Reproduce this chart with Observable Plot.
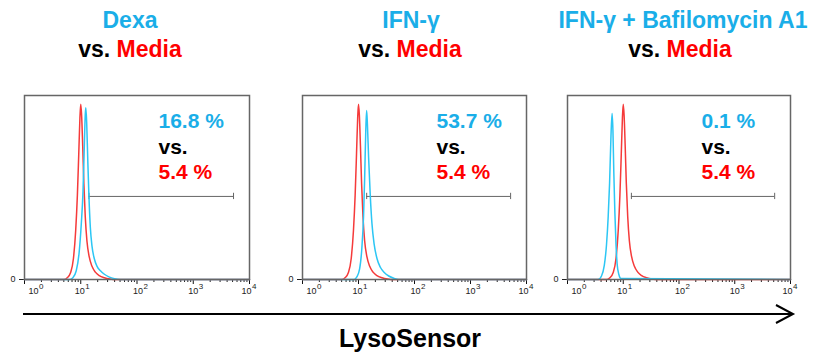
<!DOCTYPE html>
<html><head><meta charset="utf-8">
<script src="https://cdn.jsdelivr.net/npm/d3@7"></script>
<script src="https://cdn.jsdelivr.net/npm/@observablehq/plot@0.6"></script>
<style>
body{margin:0;background:#fff;font-family:Arial,"Liberation Sans",Helvetica,sans-serif;}
#wrap{position:relative;width:813px;height:359px;overflow:hidden;background:#fff;}
#wrap svg.overlay{position:absolute;left:0;top:0;}
.panel{position:absolute;top:90px;}
</style></head><body>
<div id="wrap"></div>
<script>
// ---- data ----
const treatments = ["Dexa", "IFN-γ", "IFN-γ + Bafilomycin A1"];
const treatedPct = ["16.8 %", "53.7 %", "0.1 %"];
const mediaPct = "5.4 %";
const decades = [1, 10, 100, 1000, 10000];
const exponents = ["0", "1", "2", "3", "4"];
const gateRange = [14, 5200];
const gateLevel = 47.4;

// Media (control) histogram: log10 fluorescence -> % of max
const mediaLog   = [0, 0.70, 0.76, 0.82, 0.87, 0.91, 0.94, 0.965, 0.985, 1.0, 1.015, 1.035, 1.055, 1.08, 1.11, 1.15, 1.2, 1.26, 1.33, 1.42, 1.52, 1.62, 4];
const mediaCount = [0, 0, 1, 4, 12, 28, 48, 72, 92, 100, 94, 76, 55, 36, 22, 13, 7.5, 4.2, 2.2, 1, 0.3, 0, 0];

// Dexa
const dexaLog   = [0, 0.80, 0.86, 0.92, 0.97, 1.01, 1.04, 1.065, 1.08, 1.09, 1.105, 1.125, 1.145, 1.17, 1.2, 1.24, 1.29, 1.35, 1.42, 1.5, 1.6, 1.7, 4];
const dexaCount = [0, 0, 1, 5, 15, 32, 50, 78, 94, 98, 90, 68, 48, 30, 19, 12, 7.5, 5, 3, 1.5, 0.4, 0, 0];

// IFN-gamma
const ifnLog   = [0, 0.92, 0.97, 1.02, 1.06, 1.09, 1.11, 1.13, 1.145, 1.16, 1.18, 1.21, 1.24, 1.28, 1.33, 1.39, 1.46, 1.54, 1.63, 1.72, 4];
const ifnCount = [0, 0, 1.5, 6, 18, 36, 58, 85, 96.4, 88, 70, 48, 32, 20, 12, 7, 4, 2, 0.7, 0, 0];

// IFN-gamma + Bafilomycin A1
const bafLog   = [0, 0.55, 0.61, 0.66, 0.70, 0.73, 0.755, 0.78, 0.80, 0.815, 0.83, 0.85, 0.87, 0.89, 0.92, 0.96, 4];
const bafCount = [0, 0, 2, 8, 20, 36, 55, 82, 94.7, 85, 62, 38, 20, 9, 3, 0.5, 0];

const treatedLogs = [dexaLog, ifnLog, bafLog];
const treatedCounts = [dexaCount, ifnCount, bafCount];

// ---- styling / layout ----
const CYAN = "#1aaee8", RED = "#ff0000";
const CURVE_CYAN = "#2cc6f4", CURVE_RED = "#f53a3a";
const FONT = "Arial, 'Liberation Sans', Helvetica, sans-serif";
const panelLeft = [2, 280, 545];
const boxW = [225, 224, 223];
const labelShift = [9, -1, 1, 0, -3];
const minorTicks = [];
for (const d of [1, 10, 100, 1000]) for (let k = 2; k <= 9; k++) minorTicks.push(d * k);

const wrap = document.getElementById("wrap");
const NS = "http://www.w3.org/2000/svg";

// overlay with titles, arrow and axis title
const ov = document.createElementNS(NS, "svg");
ov.setAttribute("class", "overlay");
ov.setAttribute("width", 813); ov.setAttribute("height", 359);
ov.setAttribute("font-family", FONT);
function txt(parent, x, y, parts, size, anchor) {
  const t = document.createElementNS(NS, "text");
  t.setAttribute("x", x); t.setAttribute("y", y);
  t.setAttribute("font-size", size); t.setAttribute("font-weight", "bold");
  t.setAttribute("text-anchor", anchor || "middle");
  for (const [s, c] of parts) {
    const ts = document.createElementNS(NS, "tspan");
    ts.setAttribute("fill", c); ts.textContent = s; t.appendChild(ts);
  }
  parent.appendChild(t);
}
const titleX = [130, 411, 683];
const vsX = [130, 410, 680];
treatments.forEach((name, i) => {
  txt(ov, titleX[i], 28, [[name, CYAN]], 23);
  txt(ov, vsX[i], 57, [["vs. ", "#000"], ["Media", RED]], 23);
});
// arrow
const ln = document.createElementNS(NS, "path");
ln.setAttribute("d", "M23,314 L792,314 M776,305 L793,314 L776,323");
ln.setAttribute("stroke", "#000"); ln.setAttribute("stroke-width", 2);
ln.setAttribute("fill", "none");
ov.appendChild(ln);
txt(ov, 410, 347, [["LysoSensor", "#000"]], 25);
wrap.appendChild(ov);

function makePanel(i) {
  const mediaData = mediaLog.map((l, j) => ({x: 10 ** l, y: mediaCount[j]}));
  const treatedData = treatedLogs[i].map((l, j) => ({x: 10 ** l, y: treatedCounts[i][j]}));
  const ml = 22, mr = 10, mt = 5, mb = 25;
  const labelMarks = [];
  decades.forEach((d, k) => {
    labelMarks.push(Plot.text([d], {x: v => v, frameAnchor: "bottom", text: () => "10",
      dy: 14, dx: labelShift[k], lineAnchor: "bottom", fontSize: 9, fill: "#222"}));
    labelMarks.push(Plot.text([d], {x: v => v, frameAnchor: "bottom", text: () => exponents[k],
      dy: 9, dx: labelShift[k] + 5.5, lineAnchor: "bottom", textAnchor: "start", fontSize: 8, fill: "#222"}));
  });
  const pctStyle = {frameAnchor: "top-left", dx: 134, lineAnchor: "bottom", textAnchor: "start",
    fontSize: 21, fontWeight: "bold", text: d => d};
  const p = Plot.plot({
    width: ml + boxW[i] + mr, height: mt + 184 + mb,
    marginLeft: ml, marginRight: mr, marginTop: mt, marginBottom: mb,
    style: {fontFamily: FONT, background: "transparent", overflow: "visible"},
    x: {type: "log", domain: [1, 10000]},
    y: {domain: [0, 105]},
    marks: [
      Plot.ruleY([0], {stroke: "#222"}),
      Plot.axisX(minorTicks, {tickSize: 3, tickFormat: () => "", stroke: "#222"}),
      Plot.axisX(decades, {tickSize: 5, tickFormat: () => "", stroke: "#111"}),
      Plot.axisY([0], {tickSize: 5, tickPadding: 4, fontSize: 9, color: "#222"}),
      ...labelMarks,
      Plot.ruleY([{x1: gateRange[0], x2: gateRange[1], y: gateLevel}], {x1: "x1", x2: "x2", y: "y", stroke: "#666"}),
      Plot.ruleX(gateRange.map(g => ({x: g, y1: gateLevel - 1.8, y2: gateLevel + 1.8})), {x: "x", y1: "y1", y2: "y2", stroke: "#666"}),
      Plot.line(mediaData, {x: "x", y: "y", stroke: CURVE_RED, strokeWidth: 1.5, curve: "monotone-x"}),
      Plot.line(treatedData, {x: "x", y: "y", stroke: CURVE_CYAN, strokeWidth: 1.5, curve: "monotone-x"}),
      Plot.text([treatedPct[i]], {...pctStyle, dy: 32, fill: CYAN}),
      Plot.text(["vs."], {...pctStyle, dy: 58, fill: "#000"}),
      Plot.text([mediaPct], {...pctStyle, dy: 83, fill: RED}),
      Plot.frame({stroke: "#666", strokeWidth: 1.5})
    ]
  });
  p.classList.add("panel");
  p.style.left = panelLeft[i] + "px";
  p.style.position = "absolute";
  p.style.top = "90px";
  wrap.appendChild(p);
}
[0, 1, 2].forEach(makePanel);
</script>
</body></html>
